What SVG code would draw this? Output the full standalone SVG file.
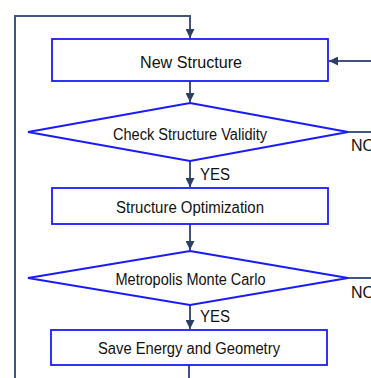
<svg xmlns="http://www.w3.org/2000/svg" width="371" height="378" viewBox="0 0 371 378">
<defs>
<style>
.box{fill:#fff;stroke:#1a1aff;stroke-width:1.8}
.conn{fill:none;stroke:#3f557f;stroke-width:2}
.t{font-family:"Liberation Sans",Arial,sans-serif;font-size:16px;fill:#111;text-anchor:middle}
.lab{font-family:"Liberation Sans",Arial,sans-serif;font-size:16px;fill:#111}
</style>
<marker id="ah" viewBox="0 0 10 10" refX="10" refY="5" markerWidth="9" markerHeight="9" markerUnits="userSpaceOnUse" orient="auto">
<path d="M0,0 L10,5 L0,10 z" fill="#2b3f66"/>
</marker>
</defs>
<rect width="371" height="378" fill="#fff"/>
<g id="connectors">
<path class="conn" d="M15,378 V16 H190 V38" marker-end="url(#ah)"/>
<path class="conn" d="M371,61 H329" marker-end="url(#ah)"/>
<path class="conn" d="M190,81 V102" marker-end="url(#ah)"/>
<path class="conn" d="M348,132 H371"/>
<path class="conn" d="M190,161 V187" marker-end="url(#ah)"/>
<path class="conn" d="M190,224 V250" marker-end="url(#ah)"/>
<path class="conn" d="M348,278 H371"/>
<path class="conn" d="M190,305 V329" marker-end="url(#ah)"/>
<path class="conn" d="M189,365 V378"/>
<text class="lab" x="200" y="180" textLength="30" lengthAdjust="spacingAndGlyphs">YES</text>
<text class="lab" x="200" y="322" textLength="30" lengthAdjust="spacingAndGlyphs">YES</text>
<text class="lab" x="351" y="151">NO</text>
<text class="lab" x="351" y="298">NO</text>
</g>
<g id="new-structure">
<rect class="box" x="52" y="39" width="276" height="42"/>
<text class="t" x="191" y="67.5" textLength="102" lengthAdjust="spacingAndGlyphs">New Structure</text>
</g>
<g id="check-validity">
<polygon class="box" points="190,103 348,132 190,161 28,132"/>
<text class="t" x="190" y="140" textLength="154" lengthAdjust="spacingAndGlyphs">Check Structure Validity</text>
</g>
<g id="structure-optimization">
<rect class="box" x="52" y="188" width="276" height="36"/>
<text class="t" x="190" y="212.5" textLength="148" lengthAdjust="spacingAndGlyphs">Structure Optimization</text>
</g>
<g id="metropolis">
<polygon class="box" points="190,251 348,278 190,305 28,278"/>
<text class="t" x="190.5" y="284.5" textLength="150" lengthAdjust="spacingAndGlyphs">Metropolis Monte Carlo</text>
</g>
<g id="save-energy">
<rect class="box" x="51" y="330" width="276" height="35"/>
<text class="t" x="189" y="353.5" textLength="182" lengthAdjust="spacingAndGlyphs">Save Energy and Geometry</text>
</g>
</svg>
